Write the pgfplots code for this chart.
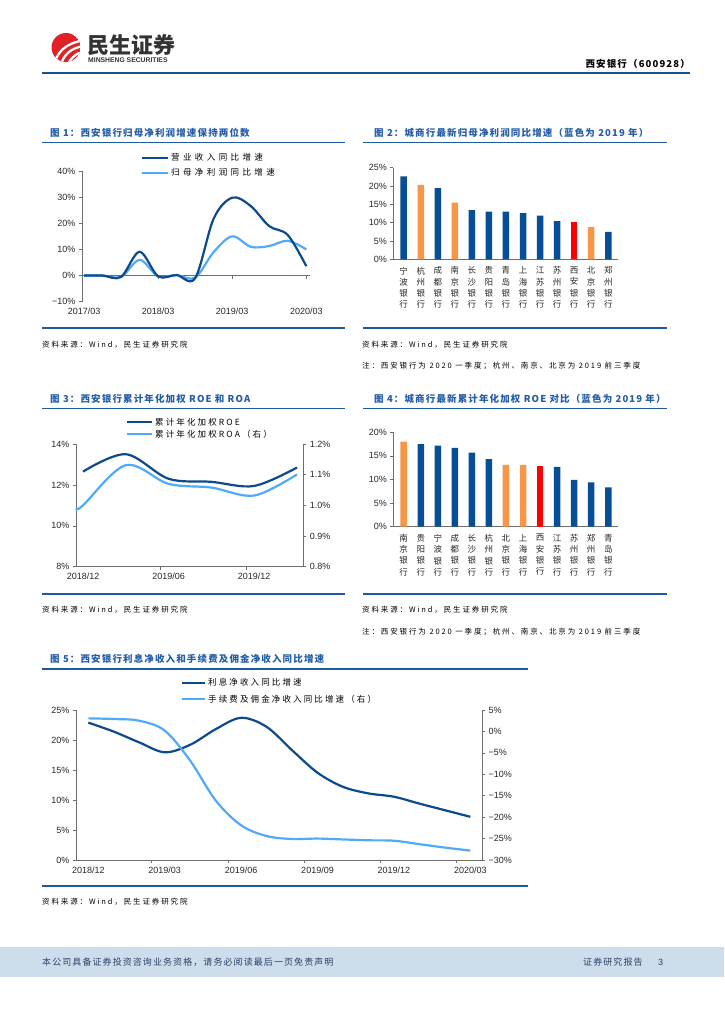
\documentclass[border=0pt]{standalone}
\usepackage{fontspec}
\setmainfont{Liberation Sans}
\newfontfamily\cjk{Noto Sans CJK SC}
\newfontfamily\cjkt{Noto Sans CJK SC}[LetterSpace=12]
\newfontfamily\cjksp{Noto Sans CJK SC}[LetterSpace=25]
\newfontfamily\cjkw{Noto Sans CJK SC}[LetterSpace=40]
\usepackage{pgfplots}
\pgfplotsset{compat=1.18}

\definecolor{darkline}{RGB}{12,74,140}
\definecolor{lightline}{RGB}{80,170,250}
\definecolor{barblue}{RGB}{6,78,150}
\definecolor{barorange}{RGB}{247,150,70}
\definecolor{barred}{RGB}{255,0,0}
\definecolor{titleblue}{RGB}{35,92,168}
\definecolor{ruleblue}{RGB}{30,90,160}
\definecolor{footband}{RGB}{205,221,235}
\definecolor{foottext}{RGB}{45,65,105}
\definecolor{axgray}{RGB}{110,110,110}
\definecolor{logored}{RGB}{225,35,40}

\newcommand\ttlfont{\cjkt\bfseries\fontsize{9.5}{11}\selectfont\color{titleblue}}
\newcommand\lgfont{\cjksp\fontsize{8.5}{10}\selectfont}
\newcommand\srcfont{\cjksp\fontsize{7.5}{9}\selectfont}

\pgfplotsset{
  pagechart/.style={
    scale only axis, anchor=south west,
    axis line style={axgray, line width=0.7pt, -},
    tick style={axgray, line width=0.6pt},
    tick align=outside, major tick length=3pt,
    ticklabel style={font=\fontsize{9}{10}\selectfont, text=black!85},
    /pgf/number format/assume math mode=true,
    clip=false,
  },
  catbars/.style={
    pagechart, axis lines*=left,
    xtick={0,...,12}, xtick style={draw=none},
    xticklabel style={align=center, font=\cjk\fontsize{8.5}{11.3}\selectfont, yshift=-1pt},
    xmin=-0.61, xmax=12.57, ymin=0,
  },
  thinline/.style={line width=2.2pt, smooth, tension=0.55},
}

\begin{document}
\begin{tikzpicture}
\begin{scope}[x=1pt,y=-1pt]
\path[use as bounding box] (0,0) rectangle (724,1024);

% header
\begin{scope}
  \clip (66,47.5) circle (14.5);
  \fill[logored] (66,47.5) circle (14.5);
  \draw[white, line width=2.3pt] (54,64) .. controls (58,52) and (64,44) .. (84,40);
  \draw[white, line width=2.3pt] (60,66) .. controls (64,55) and (70,48) .. (84,46);
  \draw[white, line width=2.3pt] (66,68) .. controls (70,59) and (75,53) .. (84,52);
\end{scope}
\node[anchor=west, inner sep=0, font=\cjk\bfseries\fontsize{22}{22}\selectfont, text=black!80] at (87,45) {民生证券};
\node[anchor=west, inner sep=0, font=\bfseries\fontsize{6.8}{7}\selectfont, text=black!80] at (88,60.5) {MINSHENG SECURITIES};
\node[anchor=east, inner sep=0, font=\cjkt\bfseries\fontsize{9.5}{10}\selectfont] at (690,64) {西安银行（600928）};
\draw[ruleblue!90!black, line width=2pt] (42,73) -- (690,73);

% footer
\fill[footband] (0,947) rectangle (724,977);
\node[anchor=west, inner sep=0, font=\cjkt\fontsize{9}{10}\selectfont, text=foottext] at (42,962) {本公司具备证券投资咨询业务资格，请务必阅读最后一页免责声明};
\node[anchor=west, inner sep=0, font=\cjkt\fontsize{9}{10}\selectfont, text=foottext] at (583,962) {证券研究报告};
\node[anchor=west, inner sep=0, font=\fontsize{9}{10}\selectfont, text=foottext] at (658,962) {3};

% titles and rules
\node[anchor=west, inner sep=0, font=\ttlfont] at (50,133.3) {图 1：西安银行归母净利润增速保持两位数};
\node[anchor=west, inner sep=0, font=\ttlfont] at (374,133.3) {图 2：城商行最新归母净利润同比增速（蓝色为 2019 年）};
\node[anchor=west, inner sep=0, font=\ttlfont] at (50,399) {图 3：西安银行累计年化加权 ROE 和 ROA};
\node[anchor=west, inner sep=0, font=\ttlfont] at (374,399) {图 4：城商行最新累计年化加权 ROE 对比（蓝色为 2019 年）};
\node[anchor=west, inner sep=0, font=\ttlfont] at (50,659) {图 5：西安银行利息净收入和手续费及佣金净收入同比增速};
\foreach \y in {142.5,328,408.5,594} {
  \draw[ruleblue, line width=1.7pt] (42,\y) -- (345,\y);
  \draw[ruleblue, line width=1.7pt] (363,\y) -- (667,\y);
}
\draw[ruleblue, line width=1.7pt] (42,669) -- (528,669);
\draw[ruleblue, line width=1.7pt] (42,886) -- (528,886);

% sources and notes
\foreach \y in {344.5,610} {
  \node[anchor=west, inner sep=0, font=\srcfont] at (42,\y) {资料来源：Wind，民生证券研究院};
  \node[anchor=west, inner sep=0, font=\srcfont] at (362,\y) {资料来源：Wind，民生证券研究院};
}
\node[anchor=west, inner sep=0, font=\srcfont] at (42,902) {资料来源：Wind，民生证券研究院};
\foreach \y in {366,632}
  \node[anchor=west, inner sep=0, font=\srcfont] at (362,\y) {注：西安银行为 2020 一季度；杭州、南京、北京为 2019 前三季度};

% legends
\draw[darkline, line width=2.2pt] (141.7,157.7) -- (168.3,157.7);
\node[anchor=west, inner sep=0, font=\cjkw\fontsize{8.5}{10}\selectfont] at (171,157.7) {营业收入同比增速};
\draw[lightline, line width=2.2pt] (141.7,172.7) -- (168.3,172.7);
\node[anchor=west, inner sep=0, font=\cjkw\fontsize{8.5}{10}\selectfont] at (171,172.7) {归母净利润同比增速};

\draw[darkline, line width=2.2pt] (127,422.3) -- (152,422.3);
\node[anchor=west, inner sep=0, font=\lgfont] at (155,422.3) {累计年化加权ROE};
\draw[lightline, line width=2.2pt] (127,434) -- (152,434);
\node[anchor=west, inner sep=0, font=\lgfont] at (155,434) {累计年化加权ROA（右）};

\draw[darkline, line width=2.2pt] (181.7,682.7) -- (205,682.7);
\node[anchor=west, inner sep=0, font=\lgfont] at (208,682.7) {利息净收入同比增速};
\draw[lightline, line width=2.2pt] (181.7,699.3) -- (205,699.3);
\node[anchor=west, inner sep=0, font=\lgfont] at (208,699.3) {手续费及佣金净收入同比增速（右）};
\end{scope}

% ---------- chart 1 ----------
\begin{axis}[pagechart, at={(82pt,-301.7pt)}, width=228pt, height=130.7pt,
  xmin=-0.11, xmax=12.2, ymin=-10, ymax=40,
  axis y line*=left, axis x line*=bottom, x axis line style={draw=none},
  xtick={0,4,8,12}, xticklabels={2017/03,2018/03,2019/03,2020/03}, xtick style={draw=none},
  ytick={-10,0,10,20,30,40}, yticklabels={−10\%,0\%,10\%,20\%,30\%,40\%}]
\draw[axgray, line width=0.7pt] (axis cs:-0.11,0) -- (axis cs:12.2,0);
\pgfplotsinvokeforeach{4,8,12}{\draw[axgray, line width=0.6pt] (axis cs:#1,0) -- ++(0pt,-3pt);}
\addplot[lightline, thinline] coordinates {(0,0) (1,0) (2,-0.5) (3,6) (4,-0.3) (5,0.2) (6,-0.8) (7,9) (8,15) (9,11) (10,11.3) (11,13.3) (12,10)};
\addplot[darkline, thinline] coordinates {(0,0) (1,0) (2,-0.5) (3,9.1) (4,-0.3) (5,0.2) (6,-1) (7,21.8) (8,29.8) (9,26.6) (10,18.9) (11,15.5) (12,3.6)};
\end{axis}

% ---------- chart 2 ----------
\begin{axis}[catbars, at={(393.3pt,-259.3pt)}, width=224.7pt, height=91.6pt,
  ymax=25, ytick={0,5,...,25}, yticklabels={0\%,5\%,10\%,15\%,20\%,25\%},
  xticklabels={{宁\\波\\银\\行},{杭\\州\\银\\行},{成\\都\\银\\行},{南\\京\\银\\行},{长\\沙\\银\\行},{贵\\阳\\银\\行},{青\\岛\\银\\行},{上\\海\\银\\行},{江\\苏\\银\\行},{苏\\州\\银\\行},{西\\安\\银\\行},{北\\京\\银\\行},{郑\\州\\银\\行}}]
\addplot[ybar, bar width=6.5pt, bar shift=0pt, fill=barblue, draw=none] coordinates {(0,22.6) (2,19.4) (4,13.4) (5,13.0) (6,13.0) (7,12.6) (8,11.9) (9,10.4) (12,7.5)};
\addplot[ybar, bar width=6.5pt, bar shift=0pt, fill=barorange, draw=none] coordinates {(1,20.3) (3,15.5) (11,8.8)};
\addplot[ybar, bar width=6.5pt, bar shift=0pt, fill=barred, draw=none] coordinates {(10,10.2)};
\end{axis}

% ---------- chart 3 ----------
\begin{axis}[pagechart, at={(76pt,-566.7pt)}, width=227.3pt, height=122.7pt,
  xmin=-0.164, xmax=5.147, ymin=8, ymax=14,
  axis y line*=left, axis x line*=bottom,
  xtick={0,2,4}, xticklabels={2018/12,2019/06,2019/12}, xtick style={draw=none},
  ytick={8,10,12,14}, yticklabels={8\%,10\%,12\%,14\%}]
\pgfplotsinvokeforeach{1.815,3.82}{\draw[axgray, line width=0.6pt] (axis cs:#1,8) -- ++(0pt,-3pt);}
\addplot[darkline, thinline] coordinates {(0,12.65) (1,13.5) (2,12.3) (3,12.15) (4,11.95) (5,12.85)};
\end{axis}
\begin{axis}[pagechart, at={(76pt,-566.7pt)}, width=227.3pt, height=122.7pt,
  xmin=-0.164, xmax=5.147, ymin=0.8, ymax=1.2,
  axis y line*=right, axis x line=none, xtick=\empty,
  ytick={0.8,0.9,1.0,1.1,1.2}, yticklabels={0.8\%,0.9\%,1.0\%,1.1\%,1.2\%}]
\addplot[lightline, thinline] coordinates {(-0.16,0.99) (0,1.0) (1,1.131) (2,1.07) (3,1.058) (4,1.032) (5,1.101)};
\end{axis}

% ---------- chart 4 ----------
\begin{axis}[catbars, at={(393.3pt,-526.7pt)}, width=224.7pt, height=94.4pt,
  ymax=20, ytick={0,5,...,20}, yticklabels={0\%,5\%,10\%,15\%,20\%},
  xticklabels={{南\\京\\银\\行},{贵\\阳\\银\\行},{宁\\波\\银\\行},{成\\都\\银\\行},{长\\沙\\银\\行},{杭\\州\\银\\行},{北\\京\\银\\行},{上\\海\\银\\行},{西\\安\\银\\行},{江\\苏\\银\\行},{苏\\州\\银\\行},{郑\\州\\银\\行},{青\\岛\\银\\行}}]
\addplot[ybar, bar width=6.5pt, bar shift=0pt, fill=barblue, draw=none] coordinates {(1,17.5) (2,17.2) (3,16.7) (4,15.7) (5,14.3) (9,12.7) (10,9.9) (11,9.4) (12,8.35)};
\addplot[ybar, bar width=6.5pt, bar shift=0pt, fill=barorange, draw=none] coordinates {(0,18.0) (6,13.1) (7,13.1)};
\addplot[ybar, bar width=6.5pt, bar shift=0pt, fill=barred, draw=none] coordinates {(8,12.85)};
\end{axis}

% ---------- chart 5 ----------
\begin{axis}[pagechart, at={(76pt,-860pt)}, width=406pt, height=150pt,
  xmin=-0.161, xmax=5.153, ymin=0, ymax=25,
  axis y line*=left, axis x line*=bottom,
  xtick={0,...,5}, xticklabels={2018/12,2019/03,2019/06,2019/09,2019/12,2020/03}, xtick style={draw=none},
  ytick={0,5,...,25}, yticklabels={0\%,5\%,10\%,15\%,20\%,25\%}]
\pgfplotsinvokeforeach{0.83,1.832,2.829,3.82,4.81}{\draw[axgray, line width=0.6pt] (axis cs:#1,0) -- ++(0pt,-3pt);}
\addplot[darkline, thinline] coordinates {(0,22.9) (0.333,21.4) (0.667,19.6) (1,17.95) (1.333,19.2) (1.667,21.8) (2,23.7) (2.333,22.2) (2.667,18.3) (3,14.55) (3.333,12.2) (3.667,11.1) (4,10.55) (4.333,9.4) (4.667,8.3) (5,7.2)};
\end{axis}
\begin{axis}[pagechart, at={(76pt,-860pt)}, width=406pt, height=150pt,
  xmin=-0.161, xmax=5.153, ymin=-30, ymax=5,
  axis y line*=right, axis x line=none, xtick=\empty,
  ytick={-30,-25,...,5}, yticklabels={−30\%,−25\%,−20\%,−15\%,−10\%,−5\%,0\%,5\%}]
\addplot[lightline, thinline] coordinates {(0,3.05) (0.333,2.9) (0.667,2.5) (1,0.2) (1.333,-6.8) (1.667,-16.1) (2,-21.9) (2.333,-24.4) (2.667,-25.1) (3,-25.0) (3.333,-25.2) (3.667,-25.4) (4,-25.5) (4.333,-26.3) (4.667,-27.1) (5,-27.8)};
\end{axis}
\end{tikzpicture}
\end{document}
